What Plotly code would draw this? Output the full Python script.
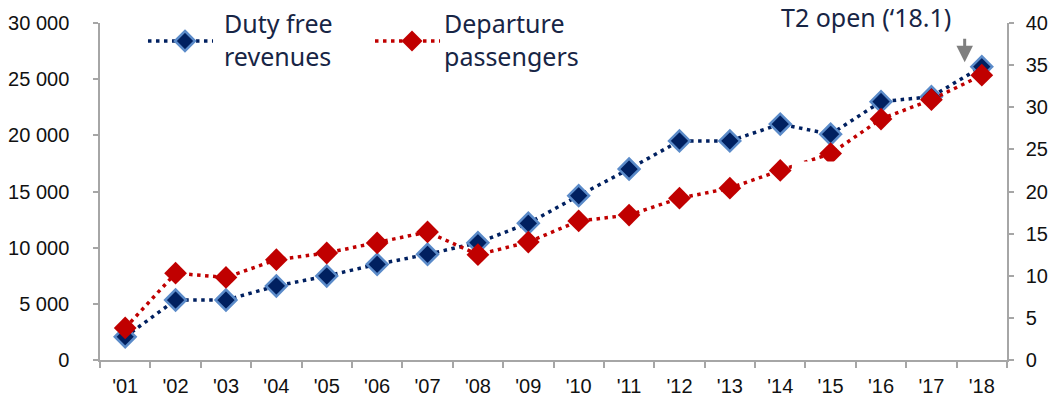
import plotly.graph_objects as go

# Years (category labels)
years = ["'01", "'02", "'03", "'04", "'05", "'06", "'07", "'08", "'09",
         "'10", "'11", "'12", "'13", "'14", "'15", "'16", "'17", "'18"]

# Duty free revenues (left axis)
duty_free_revenues = [2070, 5340, 5340, 6590, 7480, 8520, 9410, 10440, 12170,
                      14630, 17000, 19500, 19500, 21000, 20100, 23000, 23440, 26110]

# Departure passengers (right axis)
departure_passengers = [3.8, 10.3, 9.8, 11.9, 12.7, 13.9, 15.2, 12.5, 14.0,
                        16.5, 17.2, 19.2, 20.4, 22.5, 24.5, 28.6, 30.9, 33.8]

left_ticks = [0, 5000, 10000, 15000, 20000, 25000, 30000]
right_ticks = [0, 5, 10, 15, 20, 25, 30, 35, 40]

NAVY = "#002060"
LIGHT_BLUE = "#5B8BC9"
RED = "#C00000"
AXIS_GREY = "#A6A6A6"
TEXT_DARK = "#172545"
DOTS = "3.5px,4.5px"

fig = go.Figure()

fig.add_trace(go.Scatter(
    x=years, y=duty_free_revenues, name="Duty free revenues",
    mode="lines+markers",
    line=dict(color=NAVY, width=3.5, dash=DOTS),
    marker=dict(symbol="diamond", size=16, color=NAVY,
                line=dict(color=LIGHT_BLUE, width=2.5)),
    yaxis="y",
))

fig.add_trace(go.Scatter(
    x=years, y=departure_passengers, name="Departure passengers",
    mode="lines+markers",
    line=dict(color=RED, width=3.5, dash=DOTS),
    marker=dict(symbol="diamond", size=17.5, color=RED,
                line=dict(color=RED, width=0)),
    yaxis="y2",
))

tick_font = dict(family="Arial, Liberation Sans, sans-serif", size=20, color="#111111")
label_font = dict(family="Noto Sans, Open Sans, sans-serif", size=25, color=TEXT_DARK)

fig.update_layout(
    width=1057, height=401,
    margin=dict(l=100, r=50, t=23, b=41, autoexpand=False),
    paper_bgcolor="white", plot_bgcolor="white",
    separators=". ",
    showlegend=False,
    xaxis=dict(
        type="category", range=[-0.5, 17.5],
        showline=True, linecolor=AXIS_GREY, linewidth=1.5,
        ticks="outside", ticklen=6, tickcolor=AXIS_GREY, tickwidth=1.5,
        tickson="boundaries", showgrid=False, zeroline=False,
        tickfont=tick_font, ticklabelstandoff=7,
    ),
    yaxis=dict(
        range=[0, 30000], tickvals=left_ticks, tickformat=",d",
        showline=True, linecolor=AXIS_GREY, linewidth=1.5,
        ticks="outside", ticklen=5, tickcolor=AXIS_GREY, tickwidth=1.5,
        showgrid=False, zeroline=False,
        tickfont=tick_font, ticklabelstandoff=20,
    ),
    yaxis2=dict(
        range=[0, 40], tickvals=right_ticks, overlaying="y", side="right",
        showline=True, linecolor=AXIS_GREY, linewidth=1.5,
        ticks="outside", ticklen=5, tickcolor=AXIS_GREY, tickwidth=1.5,
        showgrid=False, zeroline=False,
        tickfont=tick_font, ticklabelstandoff=8,
    ),
)

# Blank text box sitting over the '14-'15 passenger segment
fig.add_shape(type="rect", xref="x", yref="y2",
              x0=13.23, x1=14.3, y0=21.0, y1=23.55,
              fillcolor="white", line=dict(width=0), layer="above")

# Legend drawn as key lines, diamonds and two-line labels
legend_items = [
    # (line start, line end, diamond centre, text x, fill, outline, label)
    (0.0529, 0.1246, 0.0937, 0.1345, NAVY, LIGHT_BLUE, "Duty free<br>revenues"),
    (0.3032, 0.3749, 0.3440, 0.3771, RED, RED, "Departure<br>passengers"),
]
key_y = 0.9466
for x0, x1, xc, xt, fill, edge, label in legend_items:
    fig.add_shape(type="line", xref="paper", yref="paper",
                  x0=x0, x1=x1, y0=key_y, y1=key_y,
                  line=dict(color=fill, width=3.5, dash=DOTS))
    half = 10 if fill == NAVY else 10.5
    fig.add_shape(type="path", xref="paper", yref="paper",
                  xsizemode="pixel", ysizemode="pixel",
                  xanchor=xc, yanchor=key_y,
                  path=f"M0,{half} L{half},0 L0,{-half} L{-half},0 Z",
                  fillcolor=fill,
                  line=dict(color=edge, width=2.5 if fill == NAVY else 0))
    fig.add_annotation(text=label, xref="paper", yref="paper",
                       x=xt, y=0.9496, xanchor="left", yanchor="middle",
                       align="left", showarrow=False, font=label_font)

# Terminal 2 opening note with arrow
fig.add_annotation(
    text="T2 open (‘18.1)", xref="paper", yref="paper",
    x=0.940, y=1.018, xanchor="right", yanchor="middle", showarrow=False,
    font=label_font,
)
fig.add_annotation(
    text="", xref="x", yref="y", x=16.66, y=26500,
    showarrow=True, ax=0, ay=-25, axref="pixel", ayref="pixel",
    arrowhead=2, arrowsize=1.1, arrowwidth=3, arrowcolor="#7F7F7F",
)

fig.write_html("out.html")
